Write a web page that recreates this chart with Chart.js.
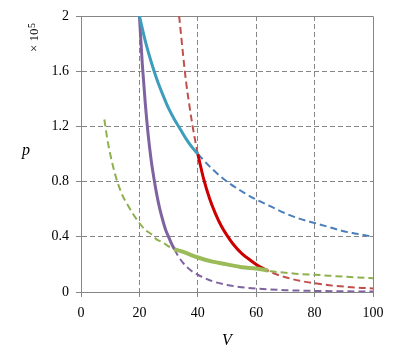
<!DOCTYPE html>
<html>
<head>
<meta charset="utf-8">
<script src="https://cdn.jsdelivr.net/npm/chart.js@4/dist/chart.umd.min.js"></script>
<style>
  html, body { margin: 0; padding: 0; background: #fff; }
  canvas { display: block; }
</style>
</head>
<body>
<canvas id="c" width="396" height="360"></canvas>
<script>
// Tick values
const xTicks = [0, 20, 40, 60, 80, 100];
const yTicks = [0, 0.4, 0.8, 1.2, 1.6, 2];

// Hot isotherm (solid part and dashed continuation)
const V_hotSolid = [20, 22, 24, 26, 28, 30, 32, 34, 36, 38, 40];
const p_hotSolid = [2.0, 1.82, 1.67, 1.54, 1.43, 1.33, 1.25, 1.18, 1.11, 1.05, 1.0];
const V_hotDash = [40, 45, 50, 55, 60, 65, 70, 75, 80, 85, 90, 95, 100];
const p_hotDash = [1.0, 0.89, 0.8, 0.73, 0.67, 0.62, 0.57, 0.53, 0.5, 0.47, 0.44, 0.42, 0.4];

// Cold isotherm
const V_coldDash = [8, 9, 10, 12, 14, 16, 18, 20, 22, 24, 26, 28, 30, 32, 35, 40, 45, 50, 55, 60, 65, 70, 75, 80, 85, 90, 95, 100];
const p_coldDash = [1.25, 1.11, 1.0, 0.83, 0.71, 0.63, 0.56, 0.5, 0.45, 0.42, 0.38, 0.36, 0.33, 0.31, 0.29, 0.25, 0.22, 0.2, 0.18, 0.17, 0.15, 0.14, 0.13, 0.125, 0.118, 0.111, 0.105, 0.1];
const V_coldSolid = [32, 35, 40, 45, 50, 55, 60, 64];
const p_coldSolid = [0.31, 0.29, 0.25, 0.22, 0.2, 0.18, 0.17, 0.156];

// Expansion adiabat
const V_adA_Dash = [33.6, 34, 35, 36, 37, 38, 39, 40, 42, 44, 46, 48, 50, 52, 55, 58, 60, 64, 70, 75, 80, 85, 90, 95, 100];
const p_adA_Dash = [2.0, 1.92, 1.71, 1.52, 1.37, 1.23, 1.11, 1.0, 0.82, 0.68, 0.57, 0.48, 0.41, 0.35, 0.28, 0.23, 0.2, 0.153, 0.107, 0.081, 0.063, 0.049, 0.039, 0.031, 0.026];
const V_adA_Solid = [40, 42, 44, 46, 48, 50, 52, 55, 58, 60, 64];
const p_adA_Solid = [1.0, 0.82, 0.68, 0.57, 0.48, 0.41, 0.35, 0.28, 0.23, 0.2, 0.153];

// Compression adiabat
const V_adB_Solid = [20, 21, 22, 23, 24, 25, 26, 27, 28, 29, 30, 31, 32];
const p_adB_Solid = [2.0, 1.65, 1.37, 1.14, 0.96, 0.82, 0.70, 0.60, 0.52, 0.45, 0.40, 0.35, 0.31];
const V_adB_Dash = [32, 33, 35, 38, 40, 45, 50, 55, 60, 70, 80, 90, 100];
const p_adB_Dash = [0.31, 0.27, 0.21, 0.15, 0.125, 0.078, 0.051, 0.035, 0.025, 0.013, 0.008, 0.005, 0.003];

const pts = (xs, ys) => xs.map((x, i) => ({ x: x, y: ys[i] }));
const GRAY = '#868686';
const DASH = [7, 4];

function ds(label, xs, ys, color, width, dashed, order) {
  return {
    label, data: pts(xs, ys), borderColor: color, backgroundColor: color,
    borderWidth: width, borderDash: dashed ? DASH : [], showLine: true,
    pointRadius: 0, pointHoverRadius: 0, cubicInterpolationMode: 'monotone',
    fill: false, order: order
  };
}

const framePlugin = {
  id: 'frame',
  beforeDatasetsDraw(chart) {
    const a = chart.chartArea, ctx = chart.ctx;
    ctx.save();
    ctx.strokeStyle = GRAY;
    ctx.lineWidth = 1;
    ctx.beginPath();
    ctx.moveTo(Math.round(a.left) + 0.5, Math.round(a.top) + 0.5);
    ctx.lineTo(Math.round(a.right) + 0.5, Math.round(a.top) + 0.5);
    ctx.lineTo(Math.round(a.right) + 0.5, Math.round(a.bottom) + 0.5);
    ctx.stroke();
    ctx.restore();
  },
  afterDraw(chart) {
    const a = chart.chartArea, ctx = chart.ctx;
    ctx.save();
    ctx.fillStyle = '#000';
    // p label
    ctx.font = 'italic 16px "Liberation Serif"';
    ctx.textAlign = 'center';
    ctx.textBaseline = 'alphabetic';
    ctx.fillText('p', a.left - 55, a.top + 139);
    // x 10^5 label, rotated
    ctx.translate(a.left - 46, a.top + 36);
    ctx.rotate(-Math.PI / 2);
    ctx.font = '13px "Liberation Serif"';
    ctx.textAlign = 'left';
    ctx.textBaseline = 'middle';
    const t = '\u00d7 10';
    ctx.fillText(t, 0, 0);
    const w = ctx.measureText(t).width;
    ctx.font = '10px "Liberation Serif"';
    ctx.fillText('5', w + 0.5, -3);
    ctx.restore();
  }
};

const tickFont = { family: '"Liberation Serif", "Times New Roman", serif', size: 14 };

new Chart(document.getElementById('c'), {
  type: 'scatter',
  data: {
    datasets: [
      ds('hot isotherm', V_hotSolid, p_hotSolid, '#3D9DBA', 3, false, 1),
      ds('cold isotherm', V_coldSolid, p_coldSolid, '#9BBB59', 4, false, 1),
      ds('adiabat A', V_adA_Solid, p_adA_Solid, '#CC0000', 3, false, 1),
      ds('adiabat B', V_adB_Solid, p_adB_Solid, '#7F63A1', 3, false, 1),
      ds('hot isotherm ext', V_hotDash, p_hotDash, '#4A7EBB', 2, true, 2),
      ds('cold isotherm ext', V_coldDash, p_coldDash, '#8FB04E', 2, true, 2),
      ds('adiabat A ext', V_adA_Dash, p_adA_Dash, '#C0504D', 2, true, 2),
      ds('adiabat B ext', V_adB_Dash, p_adB_Dash, '#7F63A1', 2, true, 2)
    ]
  },
  options: {
    responsive: false,
    animation: false,
    devicePixelRatio: 1,
    layout: { padding: { left: 0, right: 23, top: 16, bottom: 0 } },
    plugins: { legend: { display: false }, tooltip: { enabled: false } },
    scales: {
      x: {
        type: 'linear', min: 0, max: 100,
        afterBuildTicks: s => { s.ticks = xTicks.map(v => ({ value: v })); },
        afterFit: s => { s.height = 68; },
        ticks: { font: tickFont, color: '#000', padding: 8, maxRotation: 0, callback: v => String(v) },
        grid: {
          color: c => (c.tick && (c.tick.value === 0 || c.tick.value === 100)) ? 'rgba(0,0,0,0)' : GRAY,
          tickColor: GRAY, tickLength: 5, lineWidth: 1, tickBorderDash: []
        },
        border: { display: true, color: GRAY, width: 1, dash: [5, 3] },
        title: {
          display: true, text: 'V', color: '#000',
          font: { family: '"Liberation Serif", serif', size: 16, style: 'italic' },
          padding: { top: 0, bottom: 10 }
        }
      },
      y: {
        type: 'linear', min: 0, max: 2,
        afterBuildTicks: s => { s.ticks = yTicks.map(v => ({ value: v })); },
        afterFit: s => { s.width = 81; },
        ticks: { font: tickFont, color: '#000', padding: 7, callback: v => String(v) },
        grid: {
          color: c => (c.tick && (c.tick.value === 0 || c.tick.value === 2)) ? 'rgba(0,0,0,0)' : GRAY,
          tickColor: GRAY, tickLength: 5, lineWidth: 1, tickBorderDash: []
        },
        border: { display: true, color: GRAY, width: 1, dash: [5, 3] }
      }
    }
  },
  plugins: [framePlugin]
});
</script>
</body>
</html>
